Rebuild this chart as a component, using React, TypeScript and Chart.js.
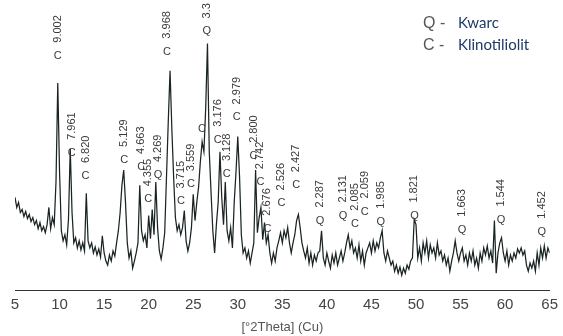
import React, { useEffect, useRef } from 'react';
import { Chart, registerables } from 'chart.js';

Chart.register(...registerables);

// Scan: start angle and step (°2θ), intensities
const START_2THETA = 5;
const STEP_2THETA = 0.2;
const intensity: number[] = [
  92, 82, 87, 77, 80, 73, 78, 71, 75, 68,
  72, 65, 69, 61, 67, 59, 63, 57, 65, 82,
  61, 72, 65, 107, 205, 117, 59, 49, 55, 45,
  70, 140, 77, 47, 52, 42, 49, 40, 47, 39,
  96, 49, 42, 47, 37, 43, 35, 41, 33, 54,
  37, 29, 25, 35, 29, 39, 34, 47, 59, 77,
  104, 119, 87, 47, 32, 39, 22, 29, 37, 47,
  104, 59, 49, 55, 42, 74, 51, 80, 55, 107,
  62, 39, 31, 42, 57, 112, 167, 217, 160, 112,
  72, 59, 65, 55, 62, 79, 49, 39, 47, 62,
  95, 69, 87, 102, 127, 147, 137, 180, 244, 137,
  97, 59, 37, 65, 87, 137, 92, 65, 107, 59,
  49, 62, 42, 87, 117, 152, 112, 55, 37, 42,
  32, 39, 27, 37, 47, 119, 57, 72, 82, 50,
  67, 47, 55, 37, 27, 37, 29, 42, 49, 57,
  47, 59, 52, 62, 47, 37, 47, 55, 69, 75,
  62, 47, 39, 32, 42, 27, 37, 25, 35, 29,
  37, 39, 59, 32, 25, 37, 29, 22, 35, 27,
  37, 25, 32, 39, 29, 37, 47, 55, 42, 49,
  37, 42, 32, 45, 29, 39, 25, 37, 42, 47,
  37, 49, 39, 47, 42, 52, 59, 37, 29, 39,
  32, 25, 29, 19, 25, 17, 23, 15, 22, 17,
  25, 21, 29, 32, 70, 65, 32, 42, 29, 47,
  37, 49, 32, 45, 37, 42, 32, 47, 35, 39,
  29, 35, 25, 32, 19, 29, 37, 49, 37, 29,
  37, 42, 29, 35, 25, 37, 29, 39, 25, 32,
  22, 37, 29, 42, 35, 44, 32, 39, 27, 69,
  17, 37, 47, 52, 37, 29, 39, 25, 35, 29,
  37, 32, 41, 37, 42, 35, 39, 25, 19, 27,
  22, 29, 19, 37, 25, 42, 32, 44, 32, 42,
  37,
];

// Peak annotations
const peakAngles: number[] = [
  9.8, 11.36, 12.92, 17.27, 19.16, 19.94, 21.06, 22.06, 23.62, 24.74,
  25.97, 26.52, 27.75, 28.75, 29.87, 31.77, 32.55, 33.33, 34.89, 36.56,
  39.24, 41.8, 43.14, 44.26, 46.04, 49.83, 55.18, 59.53, 64.11,
];
const peakPhases: string[] = [
  'C', 'C', 'C', 'C', 'C', 'C', 'Q', 'C', 'C', 'C',
  'C', 'Q', 'C', 'C', 'C', 'C', 'C', 'C', 'C', 'C',
  'Q', 'Q', 'C', 'C', 'Q', 'Q', 'Q', 'Q', 'Q',
];
const peakDSpacings: string[] = [
  '9.002', '7.961', '6.820', '5.129', '4.663', '4.355', '4.269', '3.968', '3.715', '3.559',
  '', '3.3', '3.176', '3.128', '2.979', '2.800', '2.742', '2.676', '2.526', '2.427',
  '2.287', '2.131', '2.085', '2.059', '1.985', '1.821', '1.663', '1.544', '1.452',
];
const peakLabelLevels: number[] = [
  229, 133, 110, 126, 119, 87, 111, 233, 85, 102,
  157, 253, 146, 112, 168, 130, 104, 58, 83, 101,
  66, 71, 63, 75, 65, 71, 57, 67, 55,
];

const legendSymbols: string[] = ['Q', 'C'];
const legendNames: string[] = ['Kwarc', 'Klinotiliolit'];

const X_MIN = 5;
const X_MAX = 65;
const X_STEP = 5;
const AXIS_TITLE = '[°2Theta] (Cu)';

const SANS = '"Liberation Sans", Arial, sans-serif';

const peakLabelPlugin = {
  id: 'peakLabels',
  afterDatasetsDraw(chart: any) {
    const { ctx } = chart;
    const xs = chart.scales.x;
    const ys = chart.scales.y;
    ctx.save();
    ctx.fillStyle = '#3a3a3a';
    ctx.font = `11px ${SANS}`;
    peakAngles.forEach((a, i) => {
      const px = xs.getPixelForValue(a);
      const py = ys.getPixelForValue(peakLabelLevels[i]);
      ctx.textAlign = 'center';
      ctx.textBaseline = 'alphabetic';
      ctx.fillText(peakPhases[i], px, py);
      const d = peakDSpacings[i];
      if (d) {
        ctx.save();
        ctx.translate(px + 3, py - 16);
        ctx.rotate(-Math.PI / 2);
        ctx.textAlign = 'left';
        ctx.textBaseline = 'alphabetic';
        ctx.fillText(d, 0, 0);
        ctx.restore();
      }
    });
    ctx.restore();
  },
};

const legendPlugin = {
  id: 'phaseLegend',
  afterDraw(chart: any) {
    const { ctx } = chart;
    ctx.save();
    legendSymbols.forEach((s, i) => {
      const baseY = 28 + i * 22;
      ctx.textBaseline = 'alphabetic';
      ctx.textAlign = 'left';
      ctx.fillStyle = '#555555';
      ctx.font = `16px ${SANS}`;
      ctx.fillText(`${s} -`, 423, baseY);
      ctx.fillStyle = '#1e3a66';
      ctx.font = '15px Lato, "Open Sans", sans-serif';
      ctx.fillText(legendNames[i], 458, baseY);
    });
    ctx.restore();
  },
};

export default function App() {
  const canvasRef = useRef<HTMLCanvasElement | null>(null);

  useEffect(() => {
    if (!canvasRef.current) return;
    const points = intensity.map((v, i) => ({ x: START_2THETA + STEP_2THETA * i, y: v }));
    const chart = new Chart(canvasRef.current, {
      type: 'line',
      data: {
        datasets: [
          {
            data: points,
            borderColor: '#1a2424',
            borderWidth: 1.25,
            pointRadius: 0,
            tension: 0,
            fill: false,
          },
        ],
      },
      options: {
        animation: false,
        responsive: false,
        devicePixelRatio: 1,
        layout: { padding: { left: 15, right: 10, top: 0, bottom: 0 } },
        plugins: {
          legend: { display: false },
          tooltip: { enabled: false },
        },
        scales: {
          x: {
            type: 'linear',
            min: X_MIN,
            max: X_MAX,
            ticks: {
              stepSize: X_STEP,
              color: '#444444',
              font: { size: 15, family: SANS },
              padding: 5,
              maxRotation: 0,
            },
            grid: { display: false, drawTicks: false },
            border: { display: true, color: '#333333', width: 1 },
            title: {
              display: true,
              text: AXIS_TITLE,
              color: '#555555',
              font: { size: 13, family: SANS },
              padding: { top: 1, bottom: 1 },
            },
          },
          y: {
            display: false,
            min: 0,
            max: 287,
          },
        },
      },
      plugins: [peakLabelPlugin, legendPlugin],
    });
    return () => chart.destroy();
  }, []);

  return (
    <div style={{ position: 'fixed', left: 0, top: 0, width: 563, height: 336, background: '#fff' }}>
      <canvas ref={canvasRef} width={563} height={336} />
    </div>
  );
}
